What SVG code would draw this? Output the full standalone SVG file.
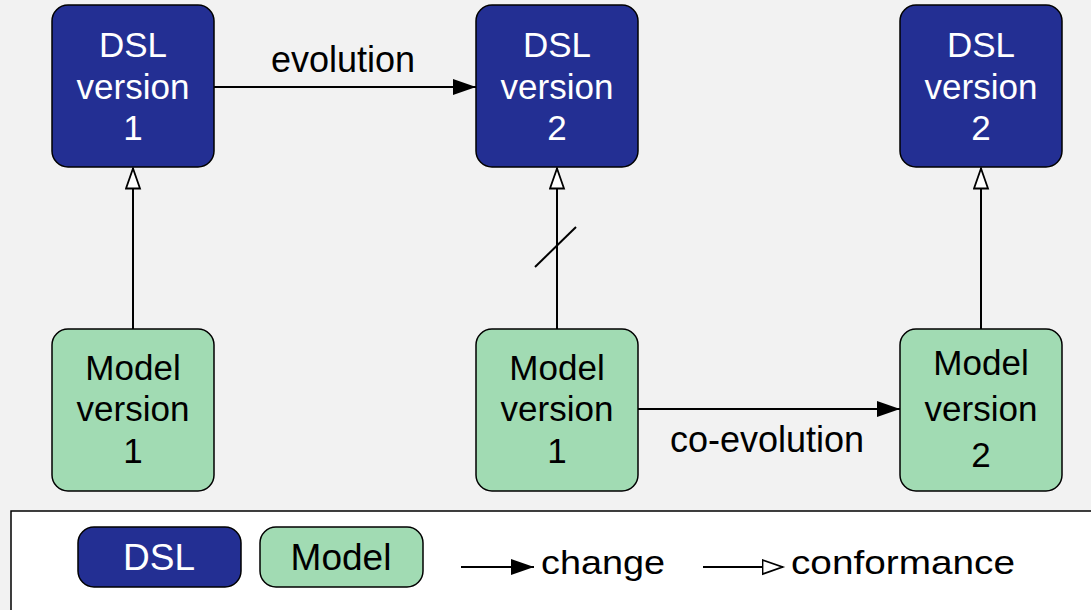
<svg xmlns="http://www.w3.org/2000/svg" width="1091" height="610" viewBox="0 0 1091 610">
  <style>
    text { font-family: "Liberation Sans", Arial, sans-serif; font-size: 35px; text-anchor: middle; }
    .dsl rect { fill: #232f93; stroke: #000; stroke-width: 1.5; }
    .dsl text { fill: #ffffff; }
    .model rect { fill: #a1dbb3; stroke: #000; stroke-width: 1.5; }
    .model text { fill: #000000; }
    .conn { stroke: #000; stroke-width: 2; fill: none; }
    .lbl { fill: #000; font-size: 36px; }
    .leg { fill: #000; font-size: 34px; text-anchor: start; }
    .legbox text { font-size: 37px; }
  </style>
  <defs>
    <marker id="filled" markerUnits="userSpaceOnUse" markerWidth="24" markerHeight="17" refX="23" refY="8" orient="auto" viewBox="0 0 24 17">
      <path d="M0,0 L23,8 L0,16 Z" fill="#000"/>
    </marker>
    <marker id="open" markerUnits="userSpaceOnUse" markerWidth="24" markerHeight="18" refX="21.5" refY="8" orient="auto" viewBox="0 0 24 18">
      <path d="M1,1 L21,8 L1,15 Z" fill="#fff" stroke="#000" stroke-width="1.8"/>
    </marker>
  </defs>
  <rect x="0" y="0" width="1091" height="610" fill="#f2f2f2"/>

  <g id="connectors">
    <line class="conn" x1="214" y1="87" x2="476" y2="87" marker-end="url(#filled)"/>
    <text class="lbl" x="343" y="72">evolution</text>
    <line class="conn" x1="638" y1="409" x2="900" y2="409" marker-end="url(#filled)"/>
    <text class="lbl" x="767" y="452">co-evolution</text>
    <line class="conn" x1="133" y1="329" x2="133" y2="168" marker-end="url(#open)"/>
    <line class="conn" x1="557" y1="329" x2="557" y2="168" marker-end="url(#open)"/>
    <line class="conn" x1="535" y1="267" x2="576" y2="227"/>
    <line class="conn" x1="981" y1="329" x2="981" y2="168" marker-end="url(#open)"/>
  </g>

  <g id="dsl1" class="dsl">
    <rect x="52" y="5" width="162" height="162" rx="16"/>
    <text x="133" y="57">DSL</text>
    <text x="133" y="99">version</text>
    <text x="133" y="140">1</text>
  </g>
  <g id="dsl2" class="dsl">
    <rect x="476" y="5" width="162" height="162" rx="16"/>
    <text x="557" y="57">DSL</text>
    <text x="557" y="99">version</text>
    <text x="557" y="140">2</text>
  </g>
  <g id="dsl3" class="dsl">
    <rect x="900" y="5" width="162" height="162" rx="16"/>
    <text x="981" y="57">DSL</text>
    <text x="981" y="99">version</text>
    <text x="981" y="140">2</text>
  </g>
  <g id="model1" class="model">
    <rect x="52" y="329" width="162" height="162" rx="16"/>
    <text x="133" y="380">Model</text>
    <text x="133" y="421">version</text>
    <text x="133" y="463">1</text>
  </g>
  <g id="model2" class="model">
    <rect x="476" y="329" width="162" height="162" rx="16"/>
    <text x="557" y="380">Model</text>
    <text x="557" y="421">version</text>
    <text x="557" y="463">1</text>
  </g>
  <g id="model3" class="model">
    <rect x="900" y="329" width="162" height="162" rx="16"/>
    <text x="981" y="375">Model</text>
    <text x="981" y="421">version</text>
    <text x="981" y="467">2</text>
  </g>

  <g id="legend">
    <rect x="11" y="511" width="1090" height="110" fill="#ffffff" stroke="#000" stroke-width="1.5"/>
    <g id="legend-dsl" class="dsl legbox">
      <rect x="78" y="527" width="163" height="60" rx="16"/>
      <text x="159" y="570">DSL</text>
    </g>
    <g id="legend-model" class="model legbox">
      <rect x="260" y="527" width="163" height="60" rx="16"/>
      <text x="341" y="570">Model</text>
    </g>
    <line class="conn" x1="461" y1="567" x2="534" y2="567" marker-end="url(#filled)"/>
    <text class="leg" x="541" y="574" textLength="124" lengthAdjust="spacingAndGlyphs">change</text>
    <line class="conn" x1="703" y1="567" x2="783" y2="567" marker-end="url(#open)"/>
    <text class="leg" x="791" y="574" textLength="224" lengthAdjust="spacingAndGlyphs">conformance</text>
  </g>
</svg>
